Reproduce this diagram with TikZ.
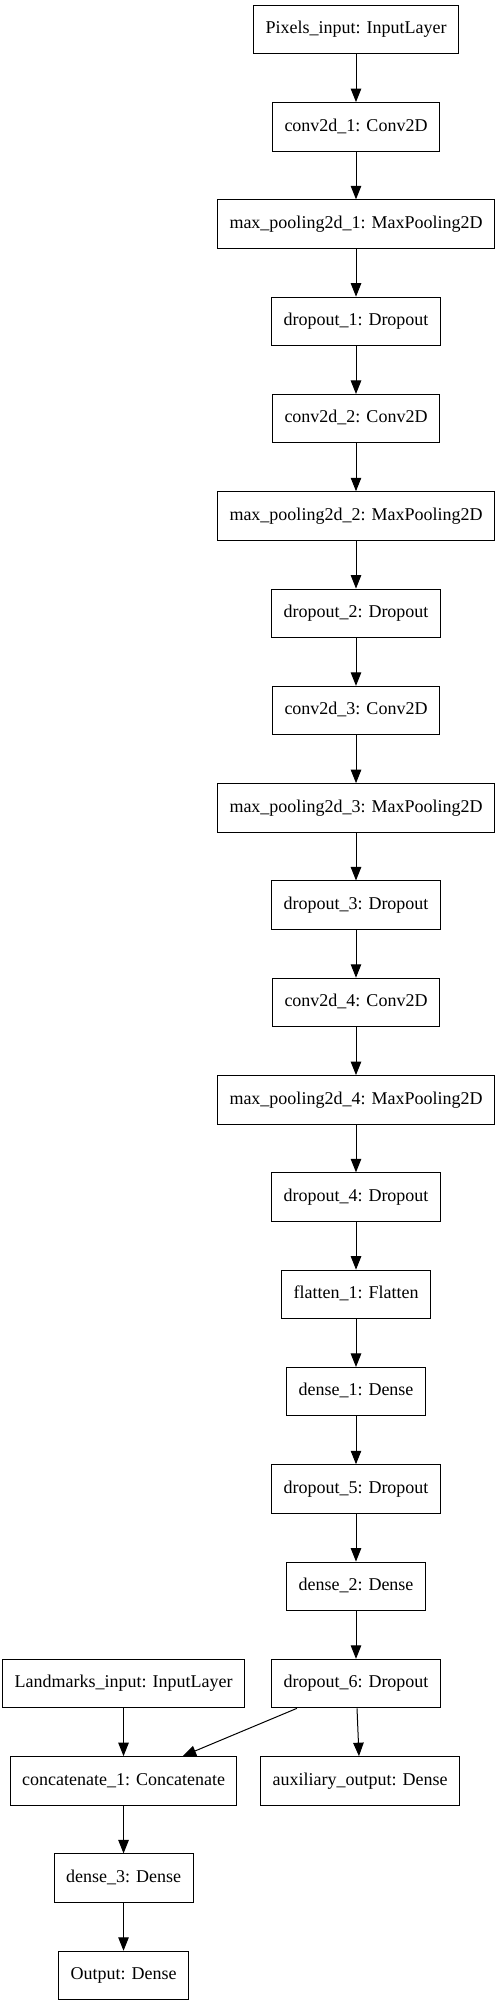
\documentclass[tikz,border=0pt]{standalone}
\usepackage{fontspec}
\setmainfont{Liberation Serif}
\usetikzlibrary{positioning, arrows.meta}

\begin{document}
\begin{tikzpicture}[x=1pt, y=-1pt, node distance=47.8pt,
      LB/.style = {draw, line width=1pt, minimum height=48.5pt, inner xsep=12pt,
      font=\fontsize{18}{21}\selectfont, text height=12.5pt, text depth=4pt},
      AR/.style = {draw, line width=1pt, -{Triangle[length=13.5pt, width=10.5pt]}} ]

\useasboundingbox (0,0) rectangle (499,2007);

\node (pix)  [LB] at (356,29.5) {Pixels\_input: InputLayer};
\node (c1)   [LB, below=of pix]  {conv2d\_1: Conv2D};
\node (mp1)  [LB, below=of c1]   {max\_pooling2d\_1: MaxPooling2D};
\node (do1)  [LB, below=of mp1]  {dropout\_1: Dropout};
\node (c2)   [LB, below=of do1]  {conv2d\_2: Conv2D};
\node (mp2)  [LB, below=of c2]   {max\_pooling2d\_2: MaxPooling2D};
\node (do2)  [LB, below=of mp2]  {dropout\_2: Dropout};
\node (c3)   [LB, below=of do2]  {conv2d\_3: Conv2D};
\node (mp3)  [LB, below=of c3]   {max\_pooling2d\_3: MaxPooling2D};
\node (do3)  [LB, below=of mp3]  {dropout\_3: Dropout};
\node (c4)   [LB, below=of do3]  {conv2d\_4: Conv2D};
\node (mp4)  [LB, below=of c4]   {max\_pooling2d\_4: MaxPooling2D};
\node (do4)  [LB, below=of mp4]  {dropout\_4: Dropout};
\node (fl1)  [LB, below=of do4]  {flatten\_1: Flatten};
\node (de1)  [LB, below=of fl1]  {dense\_1: Dense};
\node (do5)  [LB, below=of de1]  {dropout\_5: Dropout};
\node (de2)  [LB, below=of do5]  {dense\_2: Dense};
\node (do6)  [LB, below=of de2]  {dropout\_6: Dropout};

% second input and the two heads
\node (lmk)  [LB, left=26pt of do6]          {Landmarks\_input: InputLayer};
\node (cat)  [LB, below=of lmk]              {concatenate\_1: Concatenate};
\node (aux)  [LB, below=of do6, xshift=4pt]  {auxiliary\_output: Dense};
\node (de3)  [LB, below=of cat]              {dense\_3: Dense};
\node (out)  [LB, below=of de3]              {Output: Dense};

\draw[AR] (pix) -- (c1);
\draw[AR] (c1)  -- (mp1);
\draw[AR] (mp1) -- (do1);
\draw[AR] (do1) -- (c2);
\draw[AR] (c2)  -- (mp2);
\draw[AR] (mp2) -- (do2);
\draw[AR] (do2) -- (c3);
\draw[AR] (c3)  -- (mp3);
\draw[AR] (mp3) -- (do3);
\draw[AR] (do3) -- (c4);
\draw[AR] (c4)  -- (mp4);
\draw[AR] (mp4) -- (do4);
\draw[AR] (do4) -- (fl1);
\draw[AR] (fl1) -- (de1);
\draw[AR] (de1) -- (do5);
\draw[AR] (do5) -- (de2);
\draw[AR] (de2) -- (do6);
\draw[AR] (lmk) -- (cat);
\draw[AR] (do6) -- (cat);
\draw[AR] (do6) -- (aux);
\draw[AR] (cat) -- (de3);
\draw[AR] (de3) -- (out);
\end{tikzpicture}
\end{document}
